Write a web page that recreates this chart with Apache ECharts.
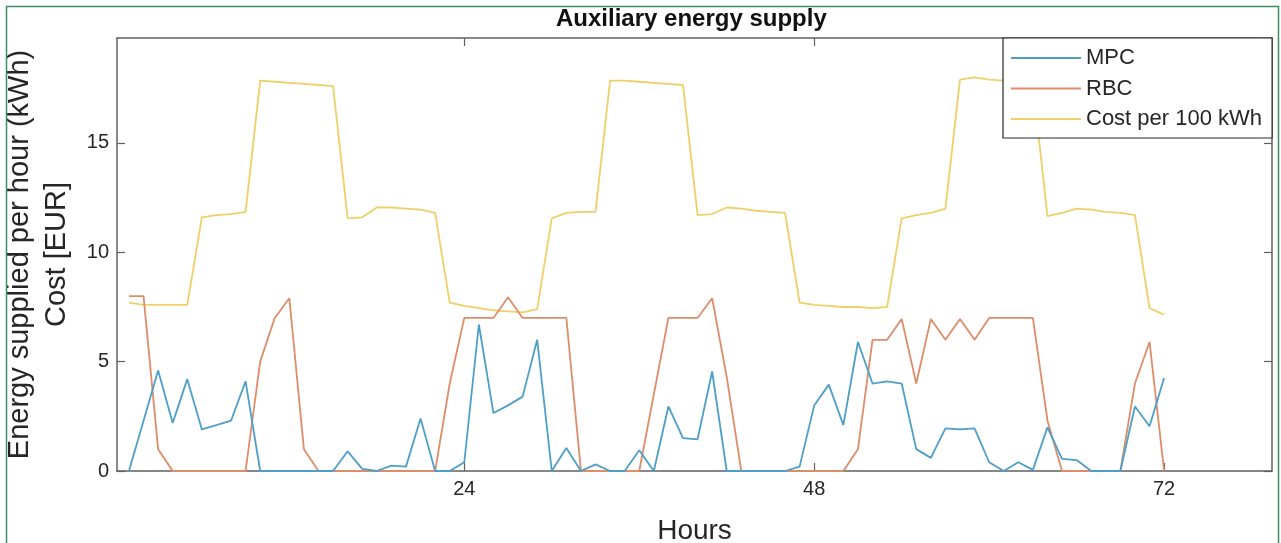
<!DOCTYPE html>
<html>
<head>
<meta charset="utf-8">
<script src="https://cdn.jsdelivr.net/npm/echarts@6/dist/echarts.min.js"></script>
<style>
html,body{margin:0;padding:0;background:#fff;}
#chart{width:1281px;height:543px;}
</style>
</head>
<body>
<div id="chart"></div>
<script>
// Hour index of each sample
const hours = [1,2,3,4,5,6,7,8,9,10,11,12,13,14,15,16,17,18,19,20,21,22,23,24,
  25,26,27,28,29,30,31,32,33,34,35,36,37,38,39,40,41,42,43,44,45,46,47,48,
  49,50,51,52,53,54,55,56,57,58,59,60,61,62,63,64,65,66,67,68,69,70,71,72];

// Energy supplied per hour (kWh) - MPC
const mpc = [0,2.3,4.6,2.2,4.2,1.9,2.1,2.3,4.1,0,0,0,0,0,0,0.9,0.1,0,0.25,0.2,2.4,0,0,0.4,
  6.7,2.65,3.0,3.4,6.0,0,1.05,0,0.3,0,0,0.95,0,2.95,1.5,1.45,4.55,0,0,0,0,0,0.2,3.0,
  3.95,2.1,5.9,4.0,4.1,4.0,1.0,0.6,1.95,1.9,1.95,0.4,0,0.4,0.05,2.0,0.55,0.5,0,0,0,2.95,2.05,4.25];

// Energy supplied per hour (kWh) - RBC
const rbc = [8,8,1.0,0,0,0,0,0,0,5.0,7.0,7.9,1.0,0,0,0,0,0,0,0,0,0,4.0,7,
  7,7,7.95,7,7,7,7,0,0,0,0,0,3.5,7,7,7,7.9,4.3,0,0,0,0,0,0,
  0,0,1.0,6.0,6.0,6.95,4.0,6.95,6.0,6.95,6.0,7,7,7,7,2.3,0,0,0,0,0,4.0,5.9,0];

// Cost per 100 kWh (EUR)
const cost = [7.7,7.6,7.6,7.6,7.6,11.6,11.7,11.75,11.85,17.85,17.8,17.75,17.7,17.65,17.6,11.55,11.6,12.05,12.05,12.0,11.95,11.8,7.7,7.55,
  7.45,7.35,7.3,7.25,7.4,11.55,11.8,11.85,11.85,17.85,17.85,17.8,17.75,17.7,17.65,11.7,11.75,12.05,12.0,11.9,11.85,11.8,7.7,7.6,
  7.55,7.5,7.5,7.45,7.5,11.55,11.7,11.8,12.0,17.9,18.0,17.9,17.85,17.8,17.7,11.65,11.8,12.0,11.95,11.85,11.8,11.7,7.45,7.15];

const xTicks = [24, 48, 72];
const seriesNames = ['MPC', 'RBC', 'Cost per 100 kWh'];

const pair = (vals) => hours.map((h, i) => [h, vals[i]]);

const axisColor = '#606060';
const textColor = '#262626';
const font = 'Liberation Sans, Arial, Helvetica, sans-serif';

const chart = echarts.init(document.getElementById('chart'), null, {renderer: 'canvas'});
chart.setOption({
  backgroundColor: '#ffffff',
  animation: false,
  textStyle: {fontFamily: font},
  title: {
    text: 'Auxiliary energy supply',
    left: 556, top: 7, padding: 0,
    textStyle: {fontSize: 24, fontWeight: 'bold', color: '#111', fontFamily: font}
  },
  grid: {left: 117, top: 38, right: 9, bottom: 72, containLabel: false, outerBoundsMode: 'none'},
  legend: {
    data: seriesNames,
    orient: 'vertical',
    left: 1003, top: 38,
    padding: [9, 10, 8, 7],
    itemWidth: 70, itemHeight: 20, itemGap: 8.5,
    backgroundColor: '#ffffff',
    borderColor: '#262626', borderWidth: 1.2,
    itemStyle: {opacity: 0},
    textStyle: {fontSize: 22, color: textColor, fontFamily: font, lineHeight: 20}
  },
  xAxis: [{
    type: 'value', min: 0.18, max: 79.4, position: 'bottom',
    axisLine: {show: true, onZero: false, lineStyle: {color: axisColor, width: 1.5}},
    axisTick: {show: true, inside: true, length: 8, customValues: xTicks, lineStyle: {color: axisColor, width: 1.2}},
    axisLabel: {show: true, customValues: xTicks, fontSize: 20, color: textColor, margin: 8, fontFamily: font},
    splitLine: {show: false},
    name: 'Hours', nameLocation: 'middle', nameGap: 46,
    nameTextStyle: {fontSize: 28, color: textColor, fontFamily: font}
  }, {
    type: 'value', min: 0.18, max: 79.4, position: 'top',
    axisLine: {show: true, onZero: false, lineStyle: {color: axisColor, width: 1.5}},
    axisTick: {show: true, inside: true, length: 8, customValues: xTicks, lineStyle: {color: axisColor, width: 1.2}},
    axisLabel: {show: false},
    splitLine: {show: false}
  }],
  yAxis: [{
    type: 'value', min: 0, max: 19.8, interval: 5, position: 'left',
    axisLine: {show: true, onZero: false, lineStyle: {color: axisColor, width: 1.5}},
    axisTick: {show: true, inside: true, length: 8, lineStyle: {color: axisColor, width: 1.2}},
    axisLabel: {show: true, fontSize: 20, color: textColor, margin: 8, fontFamily: font,
      showMaxLabel: false},
    splitLine: {show: false},
    name: 'Energy supplied per hour (kWh)\nCost [EUR]',
    nameLocation: 'middle', nameRotate: 90, nameGap: 42,
    nameTextStyle: {fontSize: 29, color: textColor, lineHeight: 37, fontFamily: font}
  }, {
    type: 'value', min: 0, max: 19.8, interval: 5, position: 'right',
    axisLine: {show: true, onZero: false, lineStyle: {color: axisColor, width: 1.5}},
    axisTick: {show: true, inside: true, length: 8, lineStyle: {color: axisColor, width: 1.2}},
    axisLabel: {show: false},
    splitLine: {show: false}
  }],
  series: [{
    name: 'MPC', type: 'line', data: pair(mpc), symbol: 'none', showSymbol: false,
    lineStyle: {color: '#4d9fc8', width: 1.8}, itemStyle: {color: '#4d9fc8'}, z: 4
  }, {
    name: 'RBC', type: 'line', data: pair(rbc), symbol: 'none', showSymbol: false,
    lineStyle: {color: '#dd8d6a', width: 1.8}, itemStyle: {color: '#dd8d6a'}, z: 3
  }, {
    name: 'Cost per 100 kWh', type: 'line', data: pair(cost), symbol: 'none', showSymbol: false,
    lineStyle: {color: '#f1cf68', width: 1.8}, itemStyle: {color: '#f1cf68'}, z: 2
  }],
  graphic: [{
    type: 'rect', silent: true, z: 100,
    shape: {x: 6.5, y: 6.5, width: 1272, height: 600},
    style: {fill: 'none', stroke: '#3d8c5f', lineWidth: 1.5}
  }]
});
</script>
</body>
</html>
